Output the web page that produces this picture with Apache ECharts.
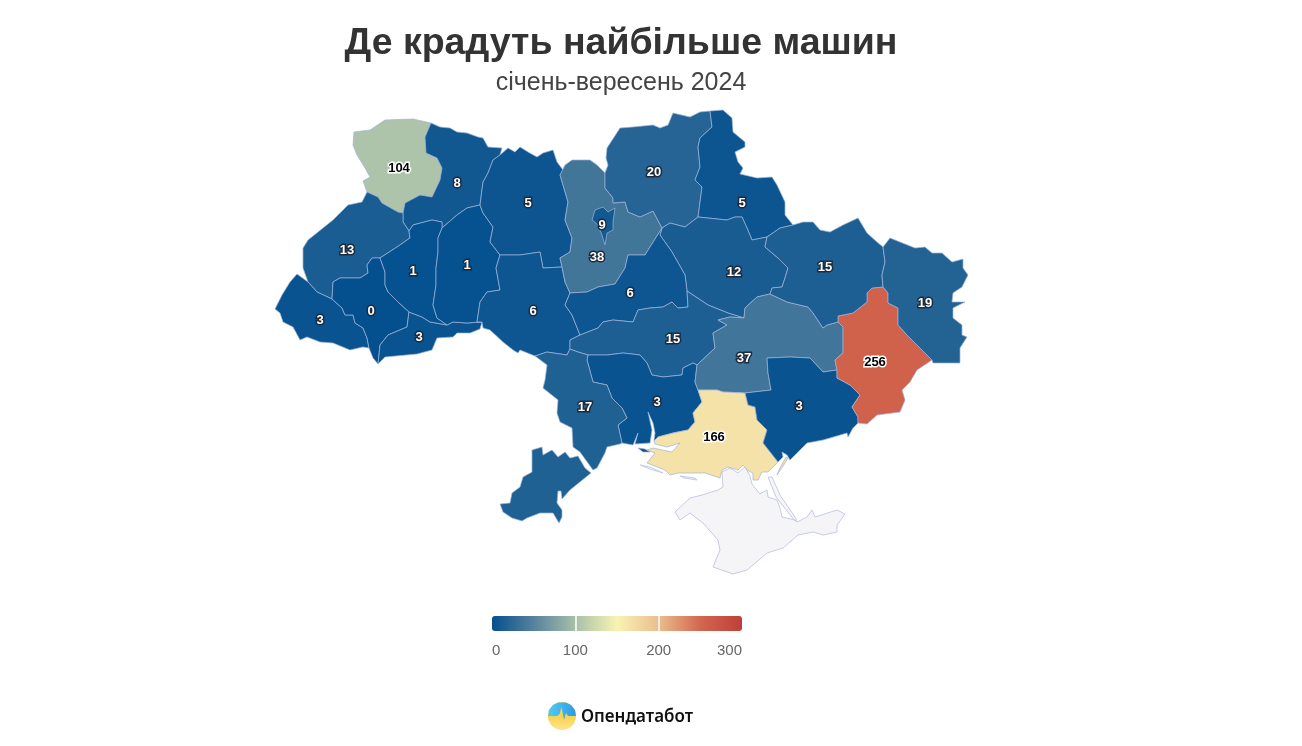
<!DOCTYPE html>
<html>
<head>
<meta charset="utf-8">
<title>Де крадуть найбільше машин</title>
<style>
	html, body { margin: 0; background: #fff; }
	#chart { width: 1302px; height: 746px; }
</style>
<script src="https://cdn.jsdelivr.net/npm/echarts@6/dist/echarts.min.js"></script>
</head>
<body>
<div id="chart"></div>
<script>
const titleText = "Де крадуть найбільше машин";
const subtitleText = "січень-вересень 2024";
const logoText = "Опендатабот";

// values per oblast
const regionNames = ["Волинська", "Рівненська", "Львівська", "Закарпатська", "Івано-Франківська", "Чернівецька", "Тернопільська", "Хмельницька", "Житомирська", "Вінницька", "Київська", "м. Київ", "Чернігівська", "Сумська", "Полтавська", "Черкаська", "Кіровоградська", "Миколаївська", "Одеська", "Дніпропетровська", "Херсонська", "Запорізька", "Донецька", "Харківська", "Луганська"];
const regionValues = [104, 8, 13, 3, 0, 3, 1, 1, 5, 6, 38, 9, 20, 5, 12, 6, 15, 3, 17, 37, 166, 3, 256, 15, 19];

// legend
const scaleMin = 0;
const scaleMax = 300;
const scaleStep = 100;
const scaleColors = ["#04508f", "#56829c", "#a8c0a9", "#f8f3b4", "#ebbd8d", "#d2674f", "#bf3f38"];

// basemap borders (x, y down), shared between neighbours
const volynN = [[353,145],[354,132],[370,130],[385,120],[413,119],[431,123]];
const volynRivne = [[431,123],[425,137],[426,153],[437,158],[442,168],[440,180],[432,197],[420,195],[405,203],[403,213]];
const volynLviv = [[403,213],[398,212],[382,203],[378,197],[367,192]];
const volynW = [[367,192],[363,181],[370,177],[365,168],[357,155],[353,145]];
const rivneN = [[431,123],[440,127],[450,128],[457,132],[467,133],[478,137],[483,138],[488,147],[502,148],[500,155]];
const rivneZhyt = [[500,155],[493,160],[488,173],[483,182],[480,205]];
const rivneKhm = [[480,205],[467,208],[457,215],[442,228]];
const rivneTern = [[442,228],[442,222],[432,220],[413,225],[409,231]];
const rivneLviv = [[409,231],[403,222],[403,213]];
const lvivW = [[367,192],[362,202],[348,205],[333,220],[308,240],[303,248],[303,268],[308,282]];
const lvivZak = [[308,282],[317,292],[332,299]];
const lvivIvano = [[332,299],[333,282],[340,278],[360,278],[368,273],[367,265],[372,258],[380,258]];
const lvivTern = [[380,258],[397,247],[410,238],[409,231]];
const zakW = [[308,282],[297,274],[290,282],[282,295],[275,309],[280,313],[283,322],[293,327],[300,340],[307,337],[320,342],[333,343],[350,350],[363,347],[369,348]];
const zakIvano = [[332,299],[342,308],[345,315],[353,315],[355,323],[363,328],[367,338],[369,348]];
const ivanoS = [[369,348],[373,358],[378,364]];
const ivanoCher = [[378,364],[380,345],[388,335],[407,327],[409,312]];
const ivanoTern = [[409,312],[398,302],[388,292],[385,285],[385,272],[380,258]];
const cherS = [[378,364],[385,357],[417,354],[432,350],[437,338],[453,337],[457,333],[470,333],[480,329],[482,322]];
const cherKhm = [[482,322],[467,323],[453,322],[447,325]];
const cherTern = [[447,325],[430,322],[422,317],[409,312]];
const ternKhm = [[442,228],[438,238],[438,252],[436,268],[436,285],[433,305],[437,318],[447,325]];
const zhytKhm = [[480,205],[483,213],[493,227],[490,242],[500,255]];
const khmVinn = [[500,255],[496,268],[500,290],[487,292],[480,302],[477,322],[482,322]];
const zhytN = [[500,155],[508,148],[515,152],[520,147],[528,152],[537,157],[543,153],[553,150],[557,162],[563,170],[560,175]];
const zhytKyiv = [[560,175],[563,185],[568,202],[565,220],[572,238],[570,252],[560,258],[562,267]];
const zhytVinn = [[562,267],[543,268],[540,252],[520,255],[500,255]];
const vinnKyiv = [[562,267],[565,282],[570,293]];
const vinnCherk = [[570,293],[565,305],[572,315],[580,335]];
const vinnKir = [[580,335],[570,340],[570,349]];
const vinnOdesa = [[570,349],[567,355],[547,352],[535,356]];
const vinnS = [[535,356],[520,350],[518,353],[513,350],[503,342],[490,330],[483,328],[482,322]];
const kyivN = [[560,175],[565,165],[572,160],[590,160],[597,165],[605,173]];
const kyivChern = [[605,173],[605,188],[613,198],[613,203],[625,202],[628,212],[640,217],[653,211],[662,228]];
const kyivCherk = [[662,228],[650,247],[645,255],[628,255],[625,268],[615,284],[598,287],[587,292],[570,293]];
const chernN = [[605,173],[608,165],[606,158],[607,148],[620,128],[633,127],[653,125],[660,128],[668,125],[673,113],[690,117],[700,112],[710,111]];
const chernSumy = [[710,111],[712,127],[700,138],[698,147],[700,167],[695,180],[702,187],[698,217]];
const chernPolt = [[698,217],[685,227],[670,223],[662,228]];
const sumyNE = [[710,111],[723,110],[732,118],[733,132],[745,142],[745,147],[735,152],[738,162],[743,168],[740,174],[757,178],[772,177],[777,185],[785,202],[785,215],[793,225]];
const sumyKh = [[793,225],[780,228],[767,237]];
const sumyPolt = [[767,237],[752,240],[747,228],[742,217],[735,217],[727,220],[698,217]];
const poltKh = [[767,237],[765,247],[778,258],[788,268],[785,278],[782,287],[772,288],[770,294]];
const poltDn = [[770,294],[757,297],[745,308],[744,318]];
const poltKir = [[744,318],[728,313],[708,305],[687,291]];
const poltCherk = [[687,291],[685,275],[672,252],[660,235],[662,228]];
const cherkKir = [[687,291],[688,307],[678,308],[672,302],[663,307],[650,308],[638,310],[633,322],[613,320],[603,322],[598,328],[580,335]];
const kirDn = [[744,318],[730,317],[718,320],[727,325],[713,333],[715,348],[697,365]];
const kirMyk = [[697,365],[693,363],[683,368],[682,375],[663,377],[652,375],[647,363],[640,355],[623,353],[607,355],[588,355]];
const kirOdesa = [[588,355],[578,352],[570,349]];
const mykOdesa = [[588,355],[587,360],[593,382],[607,385],[612,398],[622,408],[627,418],[618,425],[622,443]];
const mykCoast = [[622,443],[633,445],[638,433],[635,444],[650,443],[652,430],[648,412],[653,423],[655,433],[654,441]];
const mykKher = [[654,441],[658,437],[673,433],[688,430],[695,422],[693,413],[702,402],[698,390]];
const mykDn = [[698,390],[695,382],[697,365]];
const odesaW = [[535,356],[547,365],[545,380],[543,388],[558,400],[557,413],[560,422],[572,428],[573,447],[580,452],[593,470],[597,468],[605,453],[607,447],[620,444],[622,443]];
const budjak = [[532,450],[542,447],[543,455],[552,450],[558,457],[565,452],[570,458],[578,456],[585,468],[591,473],[570,490],[562,499],[561,491],[558,491],[557,503],[562,510],[562,517],[559,523],[553,513],[540,513],[527,518],[522,521],[512,518],[503,512],[500,504],[510,503],[512,493],[520,487],[523,477],[532,472],[532,450]];
const dnKh = [[770,294],[787,302],[808,307],[813,313],[823,328],[827,325],[838,322]];
const dnDon = [[838,322],[843,327],[843,353],[835,360],[837,370]];
const dnZap = [[837,370],[823,372],[810,358],[790,357],[767,358],[768,373],[771,390],[745,393]];
const dnKher = [[745,393],[723,392],[717,390],[703,390],[698,390]];
const kherZap = [[745,393],[748,405],[755,407],[757,420],[767,430],[763,443],[778,462]];
const kherS = [[778,462],[768,472],[762,472],[758,480],[753,480],[753,473],[747,470],[743,465],[738,470],[728,467],[722,470],[720,478],[705,473],[695,473],[678,473],[670,475],[665,470],[647,463],[655,453],[647,450],[653,448],[672,452],[680,443],[667,447],[655,444],[654,441]];
const kherSpit = [[777,475],[785,463],[788,458],[786,457],[780,468]];
const mykSpit = [[638,448],[645,449],[650,452],[643,452]];
const zapCoast = [[778,462],[783,457],[782,452],[787,455],[790,460],[807,443],[823,440],[830,438],[847,433],[848,437],[853,428],[858,423]];
const zapDon = [[858,423],[858,417],[852,407],[860,395],[850,385],[837,378],[837,370]];
const donS = [[858,423],[867,424],[877,415],[900,412],[905,400],[902,390],[910,382],[917,370],[932,360]];
const donLuh = [[932,360],[915,343],[907,335],[898,325],[898,308],[888,303],[888,293],[883,287]];
const donKh = [[883,287],[872,288],[867,293],[867,302],[853,313],[838,316],[838,322]];
const khN = [[793,225],[803,222],[813,222],[820,230],[830,232],[843,225],[858,218],[867,233],[877,242],[883,247]];
const khLuh = [[883,247],[885,262],[882,275],[883,287]];
const luhNE = [[883,247],[890,238],[895,240],[915,248],[925,247],[932,253],[942,253],[952,262],[963,259],[963,268],[968,275],[962,287],[953,293],[952,302],[965,302],[953,308],[953,318],[962,325],[962,335],[967,337],[960,348],[960,363],[933,363],[932,360]];
const kyivCity = [[592,220],[595,210],[603,207],[608,212],[615,208],[613,222],[613,230],[607,233],[605,245],[602,235],[598,225]];
const crimea = [[675,512],[690,498],[702,495],[718,490],[723,487],[722,472],[730,468],[738,473],[745,467],[750,476],[752,484],[760,494],[767,490],[768,497],[777,500],[780,508],[782,517],[795,520],[797,522],[807,517],[812,510],[815,517],[837,510],[845,514],[837,525],[837,532],[823,535],[813,532],[798,535],[783,548],[767,553],[747,570],[733,574],[713,567],[720,550],[718,540],[703,523],[690,513],[680,520]];
const arabat = [[768,477],[772,477],[780,495],[797,520],[795,521],[776,497]];
const tendra = [[640,465],[650,469],[663,473],[650,467]];
const dzharylhach = [[680,476],[695,478],[697,480],[684,478]];

// label anchors, same order as regionNames
const labelPoints = [[399,168],[457,183],[347,250],[320,320],[371,311],[419,337],[413,271],[467,265],[528,203],[533,311],[597,257],[602,225],[654,172],[742,203],[734,272],[630,293],[673,339],[657,402],[585,407],[744,358],[714,437],[799,406],[875,362],[825,267],[925,303]];

const rev = (arc) => [...arc].reverse();
const ring = (...arcs) => arcs.flat();

const regionShapes = [
	[ring(volynN, volynRivne, volynLviv, volynW)],
	[ring(rivneN, rivneZhyt, rivneKhm, rivneTern, rivneLviv, rev(volynRivne))],
	[ring(lvivW, lvivZak, lvivIvano, lvivTern, rivneLviv, volynLviv)],
	[ring(zakW, rev(zakIvano), rev(lvivZak))],
	[ring(lvivIvano, rev(ivanoTern), rev(ivanoCher), rev(ivanoS), rev(zakIvano))],
	[ring(cherS, cherKhm, cherTern, rev(ivanoCher))],
	[ring(lvivTern, rev(rivneTern), ternKhm, cherTern, ivanoTern)],
	[ring(rev(rivneKhm), zhytKhm, khmVinn, cherKhm, rev(ternKhm))],
	[ring(zhytN, zhytKyiv, zhytVinn, rev(zhytKhm), rev(rivneZhyt))],
	[ring(rev(zhytVinn), vinnKyiv, vinnCherk, vinnKir, vinnOdesa, vinnS, rev(khmVinn))],
	[ring(kyivN, kyivChern, kyivCherk, rev(vinnKyiv), rev(zhytKyiv))],
	[kyivCity],
	[ring(chernN, chernSumy, chernPolt, rev(kyivChern))],
	[ring(sumyNE, sumyKh, sumyPolt, rev(chernSumy))],
	[ring(rev(chernPolt), rev(sumyPolt), poltKh, poltDn, poltKir, poltCherk)],
	[ring(rev(kyivCherk), rev(poltCherk), cherkKir, rev(vinnCherk))],
	[ring(rev(poltKir), kirDn, kirMyk, kirOdesa, rev(vinnKir), rev(cherkKir))],
	[ring(rev(kirMyk), rev(mykDn), rev(mykKher), rev(mykCoast), rev(mykOdesa)), mykSpit],
	[ring(rev(vinnOdesa), rev(kirOdesa), mykOdesa, rev(odesaW)), budjak],
	[ring(rev(kirDn), rev(poltDn), dnKh, dnDon, dnZap, dnKher, mykDn)],
	[ring(rev(dnKher), kherZap, kherS, mykKher), kherSpit],
	[ring(rev(dnZap), rev(zapDon), rev(zapCoast), rev(kherZap))],
	[ring(donKh, dnDon, rev(zapDon), donS, donLuh)],
	[ring(rev(sumyKh), khN, khLuh, donKh, rev(dnKh), rev(poltKh))],
	[ring(luhNE, donLuh, rev(khLuh))],
];

const toGeo = (pts) => {
	const out = pts.map((p) => [p[0], -p[1]]);
	out.push(out[0]);
	return [out];
};

const features = regionNames.map((name, i) => ({
	type: "Feature",
	properties: { name: name, cp: [labelPoints[i][0], -labelPoints[i][1]] },
	geometry: { type: "MultiPolygon", coordinates: regionShapes[i].map(toGeo) },
}));
features.unshift({
	type: "Feature",
	properties: { name: "Крим" },
	geometry: { type: "MultiPolygon", coordinates: [crimea, arabat, tendra, dzharylhach].map(toGeo) },
});

echarts.registerMap("ua", { type: "FeatureCollection", features: features });

const regionData = regionNames.map((name, i) => {
	const light = regionValues[i] >= 100;
	return {
		name: name,
		value: regionValues[i],
		label: {
			color: light ? "#000" : "#fff",
			textBorderColor: light ? "#fff" : "#1c2a3a",
		},
	};
});
// no data for Crimea, only the pale fill
regionData.push({
	name: "Крим",
	itemStyle: { areaColor: "#f5f5f8", borderColor: "#c6cbe4", borderWidth: 1 },
});

const scaleStops = scaleColors.map((color, i) => ({ offset: i / (scaleColors.length - 1), color: color }));

const chart = echarts.init(document.getElementById("chart"), null, { renderer: "canvas" });

const font = "'Liberation Sans', Arial, sans-serif";

chart.setOption({
	animation: false,
	title: [
		{
			text: titleText,
			left: 616,
			top: 20,
			textAlign: "center",
			textStyle: { fontFamily: font, fontSize: 37.5, fontWeight: "bold", color: "#333" },
		},
		{
			text: subtitleText,
			left: 616,
			top: 65.5,
			textAlign: "center",
			textStyle: { fontFamily: font, fontSize: 25, fontWeight: "normal", color: "#444" },
		},
	],
	visualMap: {
		show: false,
		seriesIndex: 0,
		min: scaleMin,
		max: scaleMax,
		inRange: { color: scaleColors },
	},
	grid: { left: 492, top: 616, width: 250, height: 15 },
	xAxis: {
		type: "value",
		min: scaleMin,
		max: scaleMax,
		interval: scaleStep,
		z: 5,
		splitLine: { show: false },
		axisLine: { show: false },
		axisTick: {
			show: true,
			inside: true,
			length: 15,
			customValues: [100, 200],
			lineStyle: { color: "#fff", width: 1.5 },
		},
		axisLabel: {
			margin: 12,
			fontFamily: font,
			fontSize: 15,
			color: "#666",
			alignMinLabel: "left",
			alignMaxLabel: "right",
		},
	},
	yAxis: { type: "category", data: ["scale"], show: false },
	series: [
		{
			type: "map",
			map: "ua",
			silent: true,
			roam: false,
			selectedMode: false,
			left: 0,
			top: 0,
			width: 1302,
			height: 746,
			aspectScale: 1,
			boundingCoords: [[0, 0], [1302, -746]],
			itemStyle: { areaColor: "#f5f5f8", borderColor: "#9db3d9", borderWidth: 0.7 },
			label: {
				show: true,
				fontFamily: font,
				fontSize: 13,
				fontWeight: "bold",
				textBorderWidth: 3,
				formatter: (p) => (isNaN(p.value) ? "" : String(p.value)),
			},
			data: regionData,
		},
		{
			type: "bar",
			silent: true,
			barWidth: 15,
			data: [scaleMax],
			itemStyle: {
				borderRadius: 3,
				color: new echarts.graphic.LinearGradient(0, 0, 1, 0, scaleStops),
			},
		},
	],
	graphic: [
		{
			type: "circle",
			shape: { cx: 562, cy: 716, r: 14 },
			style: { fill: new echarts.graphic.LinearGradient(0, 0, 0, 1, [{ offset: 0.5, color: "#f8d24f" }, { offset: 1, color: "#fbe58e" }]) },
		},
		{
			type: "polygon",
			shape: {
				points: [[548, 716], [549, 710], [553, 705], [558, 702.5], [566, 702.5], [571, 705], [575, 710], [576, 716], [568, 716], [566, 713], [564, 720], [561.5, 707], [559.5, 714], [557, 716]],
			},
			style: { fill: new echarts.graphic.LinearGradient(0, 0, 1, 0, [{ offset: 0, color: "#4fcbf4" }, { offset: 1, color: "#2c9be6" }]) },
		},
		{
			type: "text",
			left: 581,
			top: 709,
			style: { text: logoText, fontFamily: "'Noto Sans', sans-serif", fontSize: 17, fontWeight: 600, fill: "#111" },
		},
	],
});
</script>
</body>
</html>
